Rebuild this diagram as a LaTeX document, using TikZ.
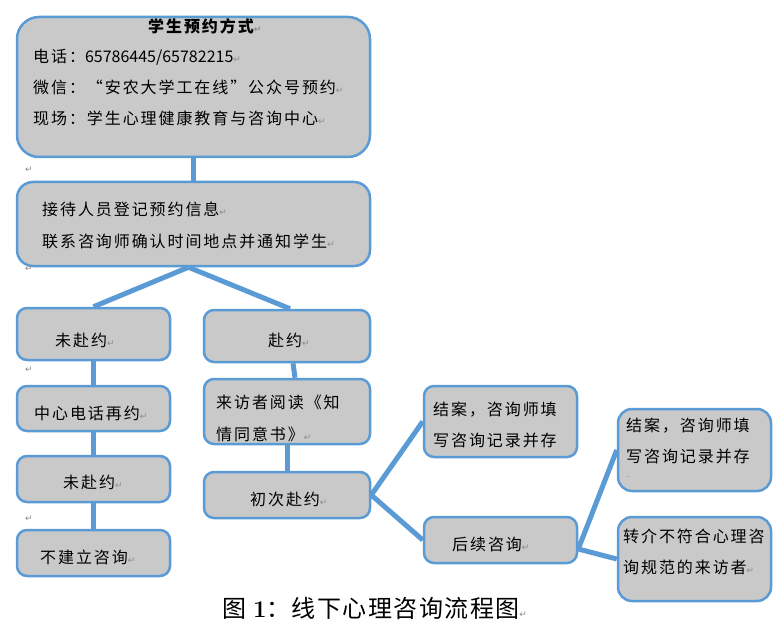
\documentclass[tikz,border=0pt]{standalone}
\usepackage{fontspec}
\usetikzlibrary{backgrounds}
\newfontfamily\cjk[LetterSpace=12]{Noto Sans CJK SC}
\newfontfamily\cjkn{Noto Sans CJK SC}
\newfontfamily\cjkcap[LetterSpace=6]{Noto Sans CJK SC}
\newfontfamily\markfont{DejaVu Sans}
\definecolor{boxblue}{HTML}{5B9BD5}
\definecolor{boxgray}{HTML}{C9C9C9}
\definecolor{markgray}{HTML}{8C8C8C}
\newcommand{\parmark}{{\markfont\fontsize{9}{9}\selectfont\color{markgray}↵}}
\tikzset{
	box/.style={draw=boxblue, line width=2.5pt, fill=boxgray, rounded corners=10pt, inner sep=0pt},
	txt/.style={anchor=west, align=left, inner sep=0pt, font=\cjk\fontsize{16}{31}\selectfont},
	link/.style={draw=boxblue, line width=5pt},
}
\begin{document}
\begin{tikzpicture}[x=1pt,y=-1pt]
	\useasboundingbox (0,0) rectangle (783,636);
	% boxes
	\node[box, rounded corners=22pt, minimum width=353pt, minimum height=140pt] (ways) at (193.5,87) {};
	\node[box, rounded corners=16pt, minimum width=353pt, minimum height=84pt] (reg) at (193.5,224) {};
	\node[box, minimum width=153pt, minimum height=52pt] (miss) at (93.5,334) {};
	\node[box, minimum width=166pt, minimum height=52pt] (attend) at (287,336) {};
	\node[box, minimum width=153pt, minimum height=45pt] (recall) at (93.5,408.5) {};
	\node[box, minimum width=153pt, minimum height=46pt] (miss2) at (93.5,479) {};
	\node[box, minimum width=153pt, minimum height=46pt] (noconsult) at (93.5,553) {};
	\node[box, minimum width=166pt, minimum height=65pt] (consent) at (287,411.5) {};
	\node[box, minimum width=166pt, minimum height=46pt] (first) at (287,495) {};
	\node[box, minimum width=153pt, minimum height=71pt] (close1) at (500.5,421.5) {};
	\node[box, minimum width=153pt, minimum height=46pt] (follow) at (500.5,540) {};
	\node[box, rounded corners=14pt, minimum width=153pt, minimum height=82pt] (close2) at (694.5,450) {};
	\node[box, rounded corners=14pt, minimum width=153pt, minimum height=84pt] (refer) at (694.5,559) {};
	% connectors
	\begin{pgfonlayer}{background}
	\draw[link] (ways.south) -- (reg.north);
	\draw[link] ([xshift=-5pt]reg.south) -- (miss.north);
	\draw[link] ([xshift=-5pt]reg.south) -- ([xshift=3pt]attend.north);
	\draw[link] (miss.south) -- (recall.north);
	\draw[link] (recall.south) -- (miss2.north);
	\draw[link] (miss2.south) -- (noconsult.north);
	\draw[link] ([xshift=6pt]attend.south) -- ([xshift=8pt]consent.north);
	\draw[link] (consent.south) -- (first.north);
	\draw[link] (first.east) -- (close1.west);
	\draw[link] (first.east) -- (follow.west);
	\draw[link] ([yshift=-9pt]follow.east) -- (close2.west);
	\draw[link] ([yshift=-9pt]follow.east) -- (refer.west);
	\end{pgfonlayer}
	% texts
	\node[txt] (ways-title) at (148,26) {\bfseries 学生预约方式\parmark};
	\node[txt] (ways-phone) at (33,57) {电话：{\cjkn 65786445/65782215}\parmark};
	\node[txt] (ways-wechat) at (33,87) {微信：“安农大学工在线”公众号预约\parmark};
	\node[txt] (ways-site) at (33,118) {现场：学生心理健康教育与咨询中心\parmark};
	\node[txt, font=\cjk\fontsize{16}{32}\selectfont] (reg-t) at (42,225) {接待人员登记预约信息\parmark\\联系咨询师确认时间地点并通知学生\parmark};
	\node[txt] (miss-t) at (55,340) {未赴约\parmark};
	\node[txt] (attend-t) at (268,340) {赴约\parmark};
	\node[txt] (recall-t) at (34,413) {中心电话再约\parmark};
	\node[txt] (miss2-t) at (63,482) {未赴约\parmark};
	\node[txt] (noconsult-t) at (40,557) {不建立咨询\parmark};
	\node[txt, font=\cjk\fontsize{16}{32}\selectfont] (consent-t) at (216,418) {来访者阅读《知\\情同意书》\parmark};
	\node[txt] (first-t) at (250,499) {初次赴约\parmark};
	\node[txt] (close1-t) at (433,425) {结案，咨询师填\\写咨询记录并存};
	\node[txt] (follow-t) at (452,544) {后续咨询\parmark};
	\node[txt] (close2-t) at (626,440.5) {结案，咨询师填\\写咨询记录并存};
	\node[txt, font=\cjkn\fontsize{9}{9}\selectfont, text=markgray] (close2-dot) at (627,477) {.};
	\node[txt] (refer-t) at (623,551.5) {转介不符合心理咨\\询规范的来访者\parmark};
	% stray paragraph marks
	\node[inner sep=0pt] (m1) at (29,170) {\parmark};
	\node[inner sep=0pt] (m2) at (29,269) {\parmark};
	\node[inner sep=0pt] (m3) at (29,370) {\parmark};
	\node[inner sep=0pt] (m4) at (29,519) {\parmark};
	% caption
	\node[anchor=west, inner sep=0pt, font=\cjkcap\fontsize{24}{24}\selectfont] (caption) at (222,608) {图 {\rmfamily\bfseries 1}：线下心理咨询流程图\parmark};
\end{tikzpicture}
\end{document}
